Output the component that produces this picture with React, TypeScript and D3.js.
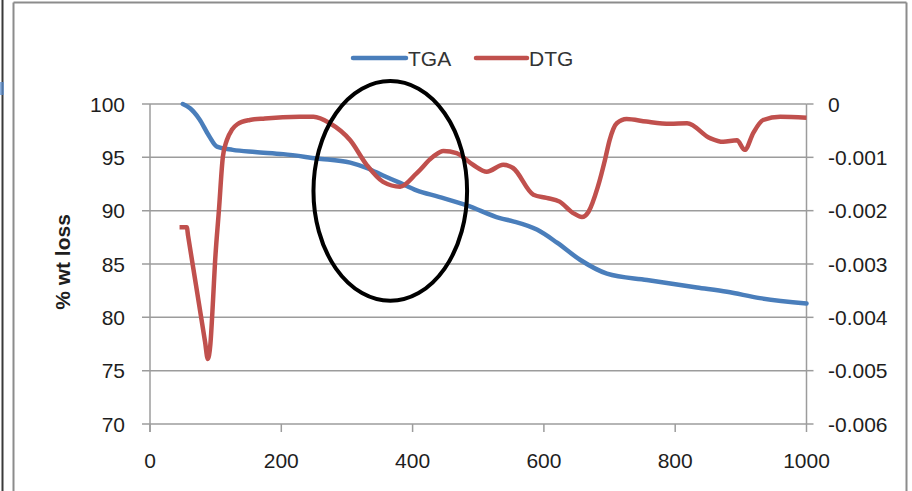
import React, { useEffect } from "react";
import * as d3 from "d3";

// Thermogravimetric curve: temperature (°C) vs. % weight remaining
const tgaTemp = [50, 61, 75, 90, 102, 126, 160, 203, 254, 305, 330, 355, 381, 406, 440, 483, 533, 553, 590, 620, 655, 696, 757, 833, 879, 929, 1000];
const tgaValue = [100, 99.6, 98.6, 97.0, 96.0, 95.7, 95.5, 95.3, 94.9, 94.5, 94.0, 93.3, 92.6, 91.9, 91.3, 90.5, 89.3, 89.0, 88.2, 87.0, 85.4, 84.1, 83.5, 82.8, 82.4, 81.8, 81.3];

// Derivative curve: temperature (°C) vs. d(weight)/dT
const dtgTemp = [45, 56, 58, 70, 84, 88, 92, 96, 99, 105, 111, 117, 125, 133, 152, 175, 228, 249, 274, 305, 330, 355, 381, 406, 431, 447, 467, 492, 513, 538, 553, 584, 604, 624, 644, 658, 668, 682, 693, 700, 711, 726, 756, 792, 818, 853, 873, 894, 906, 919, 934, 960, 1000];
const dtgValue = [-0.00231, -0.00231, -0.00247, -0.00339, -0.00447, -0.00478, -0.0045, -0.00368, -0.00298, -0.00199, -0.00099, -0.00068, -0.00048, -0.00038, -0.0003, -0.00027, -0.00024, -0.00024, -0.00036, -0.00068, -0.00114, -0.00146, -0.00155, -0.0013, -0.00099, -0.00088, -0.00092, -0.00114, -0.00127, -0.00114, -0.0012, -0.0017, -0.00176, -0.00183, -0.00204, -0.00212, -0.00202, -0.00156, -0.00105, -0.00068, -0.00036, -0.00028, -0.00033, -0.00037, -0.00036, -0.00064, -0.00071, -0.00068, -0.00086, -0.00054, -0.0003, -0.00024, -0.00026];

const xTicks = [0, 200, 400, 600, 800, 1000];
const leftTicks = [70, 75, 80, 85, 90, 95, 100];
const rightTicks = [0, -0.001, -0.002, -0.003, -0.004, -0.005, -0.006];
const rightTickLabels = ["0", "-0.001", "-0.002", "-0.003", "-0.004", "-0.005", "-0.006"];

// Highlighted region (centre in data units, radii in °C and %)
const highlightCenter = [366, 91.85];
const highlightRadius = [117, 10.3];

const W = 912;
const H = 491;
const plot = { left: 150, right: 806.5, top: 104, bottom: 424 };

const BLUE = "#4a7ebb";
const RED = "#c0504d";
const GRID = "#9c9c9c";
const FONT = "'Liberation Sans', Arial, sans-serif";

export default function App() {
  useEffect(() => {
    document.body.style.margin = "0";
  }, []);

  const x = d3.scaleLinear().domain([0, 1000]).range([plot.left, plot.right]);
  const yL = d3.scaleLinear().domain([70, 100]).range([plot.bottom, plot.top]);
  const yR = d3.scaleLinear().domain([-0.006, 0]).range([plot.bottom, plot.top]);

  const tgaPath = d3
    .line<number>()
    .x((_, i) => x(tgaTemp[i]))
    .y((d) => yL(d))
    .curve(d3.curveMonotoneX)(tgaValue) as string;

  const dtgPath = d3
    .line<number>()
    .x((_, i) => x(dtgTemp[i]))
    .y((d) => yR(d))
    .curve(d3.curveMonotoneX)(dtgValue) as string;

  const ecx = x(highlightCenter[0]);
  const ecy = yL(highlightCenter[1]);
  const erx = x(highlightCenter[0] + highlightRadius[0]) - ecx;
  const ery = yL(highlightCenter[1] - highlightRadius[1]) - ecy;

  return (
    <svg
      width={W}
      height={H}
      viewBox={`0 0 ${W} ${H}`}
      style={{ position: "absolute", left: 0, top: 0, display: "block", background: "#fff" }}
      fontFamily={FONT}
    >
      {/* frame */}
      <rect x={0} y={0} width={W} height={H} fill="#fff" />
      <line x1={2.5} y1={0} x2={2.5} y2={H} stroke="#3a3a3a" strokeWidth={2} />
      <rect x={0} y={82} width={4} height={13} fill="#5b8fd0" opacity={0.7} />
      <line x1={13.5} y1={2.5} x2={13.5} y2={H} stroke="#8c8c8c" strokeWidth={2} />
      <line x1={13.5} y1={2.5} x2={906.5} y2={2.5} stroke="#8c8c8c" strokeWidth={2} />
      <line x1={906.5} y1={2.5} x2={906.5} y2={H} stroke="#8c8c8c" strokeWidth={2} />

      {/* horizontal gridlines */}
      {leftTicks.map((t) => (
        <line key={`g${t}`} x1={plot.left - 8} x2={plot.right} y1={yL(t)} y2={yL(t)} stroke={GRID} strokeWidth={1.5} />
      ))}
      {/* axes */}
      <line x1={plot.left} x2={plot.left} y1={plot.top} y2={plot.bottom + 8} stroke={GRID} strokeWidth={1.5} />
      <line x1={plot.right} x2={plot.right} y1={plot.top} y2={plot.bottom} stroke={GRID} strokeWidth={1.5} />
      {rightTicks.map((t) => (
        <line key={`rt${t}`} x1={plot.right} x2={plot.right + 7} y1={yR(t)} y2={yR(t)} stroke={GRID} strokeWidth={1.5} />
      ))}
      {xTicks.map((t) => (
        <line key={`xt${t}`} x1={x(t)} x2={x(t)} y1={plot.bottom} y2={plot.bottom + 8} stroke={GRID} strokeWidth={1.5} />
      ))}

      {/* tick labels */}
      {leftTicks.map((t) => (
        <text key={`ll${t}`} x={125} y={yL(t) + 7.5} fontSize={21} textAnchor="end" fill="#1e1e1e">
          {t}
        </text>
      ))}
      {rightTicks.map((t, i) => (
        <text key={`rl${t}`} x={828} y={yR(t) + 7.5} fontSize={21} textAnchor="start" fill="#1e1e1e">
          {rightTickLabels[i]}
        </text>
      ))}
      {xTicks.map((t) => (
        <text key={`xl${t}`} x={x(t)} y={468} fontSize={21} textAnchor="middle" fill="#1e1e1e">
          {t}
        </text>
      ))}

      {/* axis title */}
      <text
        transform={`translate(70, 262) rotate(-90)`}
        fontSize={21}
        fontWeight="bold"
        textAnchor="middle"
        fill="#1e1e1e"
      >
        % wt loss
      </text>

      {/* series */}
      <path d={tgaPath} fill="none" stroke={BLUE} strokeWidth={4.5} strokeLinejoin="round" strokeLinecap="round" />
      <path d={dtgPath} fill="none" stroke={RED} strokeWidth={4.5} strokeLinejoin="round" strokeLinecap="butt" />

      {/* highlight ellipse */}
      <ellipse cx={ecx} cy={ecy} rx={erx} ry={ery} fill="none" stroke="#000" strokeWidth={4} />

      {/* legend */}
      <line x1={353} x2={406} y1={58} y2={58} stroke={BLUE} strokeWidth={4.5} strokeLinecap="round" />
      <text x={408} y={65.5} fontSize={21} fill="#333">TGA</text>
      <line x1={476} x2={527} y1={58} y2={58} stroke={RED} strokeWidth={4.5} strokeLinecap="round" />
      <text x={529} y={65.5} fontSize={21} fill="#333">DTG</text>
    </svg>
  );
}
